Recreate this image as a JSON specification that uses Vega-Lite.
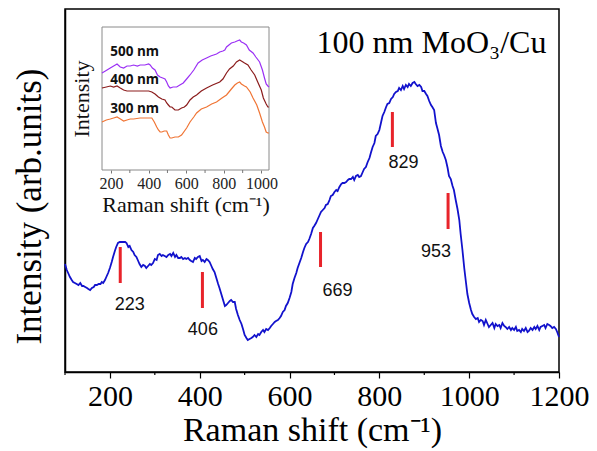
{
  "$schema": "https://vega.github.io/schema/vega-lite/v6.json",
  "autosize": {"type": "none"},
  "padding": {"left": 65, "top": 9, "right": 38, "bottom": 79},
  "width": 494,
  "height": 363,
  "background": "white",
  "config": {"view": {"stroke": "#000", "strokeWidth": 1.5}, "font": "Liberation Serif"},
  "datasets": {
    "main": [
      {"x":100,"y":108},{"x":104,"y":102},{"x":107,"y":99},{"x":111,"y":95},{"x":115,"y":92},{"x":118,"y":90},{"x":122,"y":89},{"x":126,"y":88},{"x":130,"y":87},{"x":134,"y":89},{"x":138,"y":86},{"x":141,"y":86},{"x":145,"y":85},{"x":149,"y":84},{"x":152,"y":83},{"x":156,"y":82},{"x":160,"y":84},{"x":164,"y":85},{"x":167,"y":87},{"x":171,"y":87},{"x":175,"y":88},{"x":179,"y":88},{"x":182,"y":90},{"x":185,"y":89},{"x":189,"y":92},{"x":192,"y":95},{"x":196,"y":99},{"x":200,"y":104},{"x":204,"y":110},{"x":207,"y":115},{"x":211,"y":121},{"x":214,"y":125},{"x":218,"y":129},{"x":222,"y":130},{"x":226,"y":130},{"x":230,"y":130},{"x":234,"y":130},{"x":237,"y":129},{"x":241,"y":125},{"x":244,"y":126},{"x":248,"y":122},{"x":252,"y":120},{"x":255,"y":117},{"x":259,"y":115},{"x":263,"y":111},{"x":266,"y":108},{"x":270,"y":105},{"x":274,"y":107},{"x":278,"y":106},{"x":281,"y":104},{"x":285,"y":106},{"x":289,"y":108},{"x":292,"y":107},{"x":296,"y":109},{"x":300,"y":113},{"x":304,"y":112},{"x":307,"y":117},{"x":311,"y":118},{"x":315,"y":116},{"x":318,"y":117},{"x":322,"y":116},{"x":326,"y":115},{"x":330,"y":117},{"x":334,"y":118},{"x":337,"y":116},{"x":341,"y":119},{"x":345,"y":115},{"x":348,"y":117},{"x":352,"y":114},{"x":356,"y":114},{"x":359,"y":115},{"x":363,"y":113},{"x":367,"y":114},{"x":370,"y":113},{"x":374,"y":114},{"x":378,"y":112},{"x":381,"y":111},{"x":385,"y":110},{"x":389,"y":114},{"x":392,"y":113},{"x":396,"y":115},{"x":400,"y":116},{"x":404,"y":111},{"x":407,"y":112},{"x":411,"y":110},{"x":415,"y":113},{"x":418,"y":112},{"x":422,"y":110},{"x":426,"y":106},{"x":429,"y":103},{"x":433,"y":100},{"x":437,"y":94},{"x":441,"y":88},{"x":444,"y":84},{"x":448,"y":78},{"x":452,"y":72},{"x":456,"y":66},{"x":459,"y":67},{"x":463,"y":69},{"x":467,"y":71},{"x":470,"y":72},{"x":474,"y":70},{"x":478,"y":70},{"x":481,"y":63},{"x":485,"y":57},{"x":489,"y":52},{"x":493,"y":48},{"x":497,"y":42},{"x":500,"y":37},{"x":504,"y":34},{"x":507,"y":32},{"x":511,"y":33},{"x":515,"y":34},{"x":518,"y":35},{"x":522,"y":37},{"x":526,"y":35},{"x":530,"y":38},{"x":533,"y":37},{"x":537,"y":40},{"x":541,"y":42},{"x":544,"y":40},{"x":548,"y":43},{"x":552,"y":42},{"x":556,"y":44},{"x":559,"y":46},{"x":563,"y":48},{"x":567,"y":50},{"x":570,"y":51},{"x":574,"y":52},{"x":578,"y":54},{"x":581,"y":56},{"x":585,"y":60},{"x":589,"y":62},{"x":592,"y":66},{"x":596,"y":69},{"x":600,"y":74},{"x":604,"y":80},{"x":607,"y":88},{"x":611,"y":94},{"x":615,"y":99},{"x":618,"y":104},{"x":622,"y":109},{"x":626,"y":114},{"x":630,"y":120},{"x":633,"y":124},{"x":637,"y":128},{"x":641,"y":130},{"x":644,"y":133},{"x":648,"y":138},{"x":652,"y":144},{"x":655,"y":146},{"x":659,"y":149},{"x":663,"y":153},{"x":667,"y":157},{"x":670,"y":160},{"x":674,"y":162},{"x":678,"y":164},{"x":681,"y":167},{"x":685,"y":168},{"x":689,"y":172},{"x":692,"y":176},{"x":696,"y":177},{"x":700,"y":180},{"x":704,"y":182},{"x":707,"y":181},{"x":711,"y":185},{"x":715,"y":188},{"x":718,"y":189},{"x":722,"y":189},{"x":726,"y":190},{"x":730,"y":192},{"x":733,"y":193},{"x":737,"y":193},{"x":741,"y":195},{"x":744,"y":192},{"x":748,"y":196},{"x":752,"y":197},{"x":755,"y":195},{"x":759,"y":196},{"x":763,"y":200},{"x":766,"y":203},{"x":770,"y":205},{"x":774,"y":210},{"x":778,"y":214},{"x":781,"y":219},{"x":785,"y":225},{"x":789,"y":229},{"x":792,"y":236},{"x":796,"y":238},{"x":800,"y":242},{"x":804,"y":250},{"x":807,"y":256},{"x":811,"y":260},{"x":815,"y":265},{"x":818,"y":268},{"x":822,"y":269},{"x":826,"y":273},{"x":830,"y":275},{"x":833,"y":278},{"x":837,"y":280},{"x":841,"y":281},{"x":844,"y":284},{"x":848,"y":282},{"x":852,"y":286},{"x":855,"y":283},{"x":859,"y":287},{"x":863,"y":285},{"x":866,"y":288},{"x":870,"y":286},{"x":874,"y":289},{"x":878,"y":290},{"x":881,"y":288},{"x":885,"y":286},{"x":889,"y":287},{"x":893,"y":285},{"x":896,"y":281},{"x":900,"y":281},{"x":904,"y":278},{"x":907,"y":276},{"x":911,"y":271},{"x":915,"y":267},{"x":918,"y":265},{"x":922,"y":262},{"x":926,"y":249},{"x":929,"y":244},{"x":933,"y":237},{"x":937,"y":226},{"x":941,"y":220},{"x":944,"y":217},{"x":948,"y":212},{"x":952,"y":204},{"x":955,"y":196},{"x":959,"y":193},{"x":963,"y":186},{"x":966,"y":182},{"x":970,"y":172},{"x":974,"y":163},{"x":978,"y":152},{"x":981,"y":138},{"x":985,"y":122},{"x":989,"y":104},{"x":993,"y":89},{"x":996,"y":78},{"x":1000,"y":69},{"x":1004,"y":62},{"x":1007,"y":58},{"x":1011,"y":55},{"x":1015,"y":53},{"x":1019,"y":54},{"x":1022,"y":50},{"x":1026,"y":52},{"x":1030,"y":51},{"x":1033,"y":47},{"x":1037,"y":52},{"x":1041,"y":48},{"x":1044,"y":45},{"x":1048,"y":47},{"x":1052,"y":49},{"x":1056,"y":44},{"x":1059,"y":48},{"x":1063,"y":46},{"x":1067,"y":47},{"x":1070,"y":44},{"x":1074,"y":49},{"x":1078,"y":46},{"x":1081,"y":45},{"x":1085,"y":43},{"x":1089,"y":45},{"x":1093,"y":42},{"x":1096,"y":44},{"x":1100,"y":42},{"x":1104,"y":45},{"x":1107,"y":41},{"x":1111,"y":42},{"x":1115,"y":40},{"x":1118,"y":43},{"x":1122,"y":41},{"x":1126,"y":44},{"x":1130,"y":40},{"x":1133,"y":41},{"x":1137,"y":44},{"x":1141,"y":42},{"x":1145,"y":45},{"x":1148,"y":43},{"x":1152,"y":46},{"x":1156,"y":42},{"x":1159,"y":45},{"x":1163,"y":46},{"x":1167,"y":47},{"x":1170,"y":44},{"x":1174,"y":48},{"x":1178,"y":47},{"x":1181,"y":46},{"x":1185,"y":44},{"x":1189,"y":45},{"x":1193,"y":43},{"x":1196,"y":40},{"x":1200,"y":35}
    ],
    "peaks": [
      {"pos":223,"y1":89,"y2":125,"label":"223","lx":244,"ly":67},
      {"pos":406,"y1":64,"y2":100,"label":"406","lx":407,"ly":42},
      {"pos":669,"y1":105,"y2":140,"label":"669","lx":707,"ly":81},
      {"pos":829,"y1":225,"y2":260,"label":"829","lx":854,"ly":209},
      {"pos":953,"y1":143,"y2":179,"label":"953","lx":926,"ly":120}
    ],
    "mainMinor": [
      {"x":100,"a":0,"b":-3},{"x":300,"a":0,"b":-3},{"x":500,"a":0,"b":-3},{"x":700,"a":0,"b":-3},{"x":900,"a":0,"b":-3},{"x":1100,"a":0,"b":-3}
    ],
    "insetMinor": [
      {"x":300,"a":0,"b":-3},{"x":500,"a":0,"b":-3},{"x":700,"a":0,"b":-3},{"x":900,"a":0,"b":-3}
    ],
    "inset": [
      {"s":"500 nm","x":152,"y":97},{"s":"500 nm","x":170,"y":99},{"s":"500 nm","x":196,"y":102},{"s":"500 nm","x":214,"y":104},{"s":"500 nm","x":232,"y":106},{"s":"500 nm","x":249,"y":103},{"s":"500 nm","x":267,"y":102},{"s":"500 nm","x":285,"y":104},{"s":"500 nm","x":302,"y":104},{"s":"500 nm","x":320,"y":105},{"s":"500 nm","x":340,"y":104},{"s":"500 nm","x":355,"y":105},{"s":"500 nm","x":380,"y":105},{"s":"500 nm","x":400,"y":106},{"s":"500 nm","x":408,"y":105},{"s":"500 nm","x":420,"y":102},{"s":"500 nm","x":434,"y":100},{"s":"500 nm","x":447,"y":95},{"s":"500 nm","x":461,"y":93},{"s":"500 nm","x":475,"y":92},{"s":"500 nm","x":487,"y":91},{"s":"500 nm","x":496,"y":88},{"s":"500 nm","x":505,"y":84},{"s":"500 nm","x":514,"y":82},{"s":"500 nm","x":530,"y":83},{"s":"500 nm","x":549,"y":83},{"s":"500 nm","x":566,"y":85},{"s":"500 nm","x":584,"y":87},{"s":"500 nm","x":602,"y":91},{"s":"500 nm","x":620,"y":95},{"s":"500 nm","x":640,"y":100},{"s":"500 nm","x":663,"y":107},{"s":"500 nm","x":685,"y":110},{"s":"500 nm","x":708,"y":112},{"s":"500 nm","x":730,"y":114},{"s":"500 nm","x":761,"y":116},{"s":"500 nm","x":778,"y":118},{"s":"500 nm","x":795,"y":119},{"s":"500 nm","x":805,"y":120},{"s":"500 nm","x":814,"y":123},{"s":"500 nm","x":827,"y":125},{"s":"500 nm","x":840,"y":127},{"s":"500 nm","x":858,"y":128},{"s":"500 nm","x":870,"y":129},{"s":"500 nm","x":884,"y":130},{"s":"500 nm","x":893,"y":128},{"s":"500 nm","x":905,"y":127},{"s":"500 nm","x":920,"y":125},{"s":"500 nm","x":935,"y":120},{"s":"500 nm","x":955,"y":117},{"s":"500 nm","x":970,"y":113},{"s":"500 nm","x":990,"y":108},{"s":"500 nm","x":1005,"y":100},{"s":"500 nm","x":1016,"y":92},{"s":"500 nm","x":1025,"y":86},{"s":"500 nm","x":1034,"y":84},{"s":"500 nm","x":1040,"y":83},
      {"s":"400 nm","x":152,"y":82},{"s":"400 nm","x":175,"y":83},{"s":"400 nm","x":196,"y":84},{"s":"400 nm","x":214,"y":83},{"s":"400 nm","x":232,"y":84},{"s":"400 nm","x":249,"y":82},{"s":"400 nm","x":267,"y":80},{"s":"400 nm","x":285,"y":79},{"s":"400 nm","x":320,"y":79},{"s":"400 nm","x":355,"y":79},{"s":"400 nm","x":380,"y":79},{"s":"400 nm","x":400,"y":79},{"s":"400 nm","x":417,"y":78},{"s":"400 nm","x":434,"y":76},{"s":"400 nm","x":452,"y":73},{"s":"400 nm","x":470,"y":71},{"s":"400 nm","x":487,"y":70},{"s":"400 nm","x":496,"y":67},{"s":"400 nm","x":505,"y":65},{"s":"400 nm","x":514,"y":63},{"s":"400 nm","x":523,"y":63},{"s":"400 nm","x":540,"y":60},{"s":"400 nm","x":558,"y":60},{"s":"400 nm","x":575,"y":62},{"s":"400 nm","x":590,"y":63},{"s":"400 nm","x":602,"y":65},{"s":"400 nm","x":620,"y":70},{"s":"400 nm","x":637,"y":73},{"s":"400 nm","x":655,"y":75},{"s":"400 nm","x":680,"y":79},{"s":"400 nm","x":708,"y":82},{"s":"400 nm","x":740,"y":85},{"s":"400 nm","x":778,"y":88},{"s":"400 nm","x":795,"y":91},{"s":"400 nm","x":814,"y":97},{"s":"400 nm","x":830,"y":101},{"s":"400 nm","x":850,"y":104},{"s":"400 nm","x":867,"y":108},{"s":"400 nm","x":884,"y":110},{"s":"400 nm","x":893,"y":109},{"s":"400 nm","x":910,"y":107},{"s":"400 nm","x":928,"y":105},{"s":"400 nm","x":945,"y":100},{"s":"400 nm","x":964,"y":95},{"s":"400 nm","x":980,"y":88},{"s":"400 nm","x":999,"y":80},{"s":"400 nm","x":1010,"y":72},{"s":"400 nm","x":1025,"y":66},{"s":"400 nm","x":1034,"y":63},{"s":"400 nm","x":1040,"y":63},
      {"s":"300 nm","x":152,"y":48},{"s":"300 nm","x":175,"y":50},{"s":"300 nm","x":196,"y":51},{"s":"300 nm","x":214,"y":52},{"s":"300 nm","x":232,"y":53},{"s":"300 nm","x":250,"y":51},{"s":"300 nm","x":267,"y":49},{"s":"300 nm","x":285,"y":50},{"s":"300 nm","x":302,"y":51},{"s":"300 nm","x":320,"y":51},{"s":"300 nm","x":355,"y":52},{"s":"300 nm","x":390,"y":52},{"s":"300 nm","x":417,"y":52},{"s":"300 nm","x":430,"y":48},{"s":"300 nm","x":443,"y":43},{"s":"300 nm","x":452,"y":40},{"s":"300 nm","x":461,"y":38},{"s":"300 nm","x":470,"y":38},{"s":"300 nm","x":483,"y":39},{"s":"300 nm","x":496,"y":39},{"s":"300 nm","x":505,"y":35},{"s":"300 nm","x":514,"y":32},{"s":"300 nm","x":523,"y":32},{"s":"300 nm","x":540,"y":33},{"s":"300 nm","x":558,"y":33},{"s":"300 nm","x":575,"y":35},{"s":"300 nm","x":602,"y":42},{"s":"300 nm","x":620,"y":48},{"s":"300 nm","x":640,"y":53},{"s":"300 nm","x":655,"y":57},{"s":"300 nm","x":680,"y":61},{"s":"300 nm","x":708,"y":63},{"s":"300 nm","x":735,"y":66},{"s":"300 nm","x":761,"y":68},{"s":"300 nm","x":790,"y":72},{"s":"300 nm","x":814,"y":75},{"s":"300 nm","x":840,"y":81},{"s":"300 nm","x":858,"y":85},{"s":"300 nm","x":872,"y":87},{"s":"300 nm","x":884,"y":88},{"s":"300 nm","x":893,"y":86},{"s":"300 nm","x":910,"y":84},{"s":"300 nm","x":920,"y":83},{"s":"300 nm","x":940,"y":78},{"s":"300 nm","x":955,"y":72},{"s":"300 nm","x":975,"y":65},{"s":"300 nm","x":990,"y":57},{"s":"300 nm","x":1005,"y":48},{"s":"300 nm","x":1016,"y":43},{"s":"300 nm","x":1025,"y":38},{"s":"300 nm","x":1034,"y":37},{"s":"300 nm","x":1040,"y":37}
    ],
    "insetLabels": [
      {"s":"500 nm","x":196,"y":118},
      {"s":"400 nm","x":196,"y":90},
      {"s":"300 nm","x":196,"y":61}
    ]
  },
  "layer": [
    {
      "data": {"name": "main"},
      "mark": {"type": "line", "color": "#1212cc", "strokeWidth": 1.8, "interpolate": "linear"},
      "encoding": {
        "x": {"field": "x", "type": "quantitative",
          "scale": {"domain": [100, 1200], "nice": false, "zero": false},
          "axis": {"orient": "bottom", "title": "Raman shift (cm⁻¹)", "values": [200,400,600,800,1000,1200],
            "format": "d", "tickSize": 6,
            "labelFontSize": 30, "labelFont": "Liberation Serif", "labelColor": "#000",
            "labelPadding": 3, "labelFlush": false, "labelOverlap": false,
            "titleFontSize": 34, "titleFont": "Liberation Serif", "titleFontWeight": "normal", "titleColor": "#000", "titlePadding": 2,
            "domainColor": "#000", "domainWidth": 1.5, "tickColor": "#000", "tickWidth": 1.2, "grid": false}},
        "y": {"field": "y", "type": "quantitative",
          "scale": {"domain": [0, 363], "nice": false, "zero": false},
          "axis": {"orient": "left", "title": "Intensity (arb.units)", "ticks": false, "labels": false,
            "domainColor": "#000", "domainWidth": 1.5, "titleY": 197,
            "titleFontSize": 35, "titleFont": "Liberation Serif", "titleFontWeight": "normal", "titleColor": "#000", "titlePadding": 18, "grid": false}}
      }
    },
    {
      "data": {"name": "mainMinor"},
      "mark": {"type": "rule", "color": "#000", "strokeWidth": 1.2},
      "encoding": {
        "x": {"field": "x", "type": "quantitative", "scale": {"domain": [100, 1200], "nice": false, "zero": false}, "axis": null},
        "y": {"field": "a", "type": "quantitative", "scale": {"domain": [0, 363], "nice": false, "zero": false}, "axis": null},
        "y2": {"field": "b"}
      }
    },
    {
      "data": {"name": "peaks"},
      "mark": {"type": "rule", "color": "#e8232a", "strokeWidth": 3},
      "encoding": {
        "x": {"field": "pos", "type": "quantitative", "scale": {"domain": [100, 1200], "nice": false, "zero": false}, "axis": null},
        "y": {"field": "y1", "type": "quantitative", "scale": {"domain": [0, 363], "nice": false, "zero": false}, "axis": null},
        "y2": {"field": "y2"}
      }
    },
    {
      "data": {"name": "peaks"},
      "mark": {"type": "text", "font": "Liberation Sans", "fontSize": 18, "color": "#111", "align": "center", "baseline": "middle"},
      "encoding": {
        "x": {"field": "lx", "type": "quantitative", "scale": {"domain": [100, 1200], "nice": false, "zero": false}, "axis": null},
        "y": {"field": "ly", "type": "quantitative", "scale": {"domain": [0, 363], "nice": false, "zero": false}, "axis": null},
        "text": {"field": "label"}
      }
    },
    {
      "data": {"values": [{"t": "100 nm MoO₃/Cu", "x": 916, "y": 319}]},
      "mark": {"type": "text", "font": "Liberation Serif", "fontSize": 32, "color": "#000", "align": "center", "baseline": "alphabetic"},
      "encoding": {
        "x": {"field": "x", "type": "quantitative", "scale": {"domain": [100, 1200], "nice": false, "zero": false}, "axis": null},
        "y": {"field": "y", "type": "quantitative", "scale": {"domain": [0, 363], "nice": false, "zero": false}, "axis": null},
        "text": {"field": "t"}
      }
    },
    {
      "data": {"values": [{"x1": 152, "x2": 1040, "y1": 0, "y2": 143}]},
      "mark": {"type": "rect", "filled": false, "color": "#8a8a8a", "strokeWidth": 1},
      "encoding": {
        "x": {"field": "x1", "type": "quantitative",
          "scale": {"domain": [152, 1040], "range": [37, 204], "nice": false, "zero": false},
          "axis": {"orient": "bottom", "offset": -202, "title": "Raman shift (cm⁻¹)",
            "values": [200,400,600,800,1000], "format": "d",
            "tickSize": 3, "tickColor": "#777", "domain": false,
            "labelFontSize": 16, "labelFont": "Liberation Serif", "labelColor": "#222", "labelPadding": 2,
            "labelFlush": false, "labelOverlap": false,
            "titleFontSize": 22, "titleFont": "Liberation Serif", "titleFontWeight": "normal", "titleColor": "#111", "titlePadding": 3, "grid": false}},
        "x2": {"field": "x2"},
        "y": {"field": "y1", "type": "quantitative",
          "scale": {"domain": [0, 143], "range": [161, 18], "nice": false, "zero": false},
          "axis": {"orient": "left", "offset": -37, "title": "Intensity", "ticks": false, "labels": false, "domain": false,
            "titleFontSize": 22, "titleFont": "Liberation Serif", "titleFontWeight": "normal", "titleColor": "#111", "titlePadding": 9, "grid": false}},
        "y2": {"field": "y2"}
      }
    },
    {
      "data": {"name": "insetMinor"},
      "mark": {"type": "rule", "color": "#777", "strokeWidth": 1},
      "encoding": {
        "x": {"field": "x", "type": "quantitative", "scale": {"domain": [152, 1040], "range": [37, 204], "nice": false, "zero": false}, "axis": null},
        "y": {"field": "a", "type": "quantitative", "scale": {"domain": [0, 143], "range": [161, 18], "nice": false, "zero": false}, "axis": null},
        "y2": {"field": "b"}
      }
    },
    {
      "data": {"name": "inset"},
      "mark": {"type": "line", "strokeWidth": 1.2},
      "encoding": {
        "x": {"field": "x", "type": "quantitative", "scale": {"domain": [152, 1040], "range": [37, 204], "nice": false, "zero": false}, "axis": null},
        "y": {"field": "y", "type": "quantitative", "scale": {"domain": [0, 143], "range": [161, 18], "nice": false, "zero": false}, "axis": null},
        "color": {"field": "s", "type": "nominal",
          "scale": {"domain": ["500 nm", "400 nm", "300 nm"], "range": ["#9b30f5", "#8b1c1c", "#f07535"]},
          "legend": null}
      }
    },
    {
      "data": {"name": "insetLabels"},
      "mark": {"type": "text", "font": "Open Sans", "fontWeight": "bold", "fontSize": 13.5, "color": "#111", "align": "left", "baseline": "middle"},
      "encoding": {
        "x": {"field": "x", "type": "quantitative", "scale": {"domain": [152, 1040], "range": [37, 204], "nice": false, "zero": false}, "axis": null},
        "y": {"field": "y", "type": "quantitative", "scale": {"domain": [0, 143], "range": [161, 18], "nice": false, "zero": false}, "axis": null},
        "text": {"field": "s"}
      }
    }
  ],
  "resolve": {"scale": {"x": "independent", "y": "independent"}, "axis": {"x": "independent", "y": "independent"}}
}
